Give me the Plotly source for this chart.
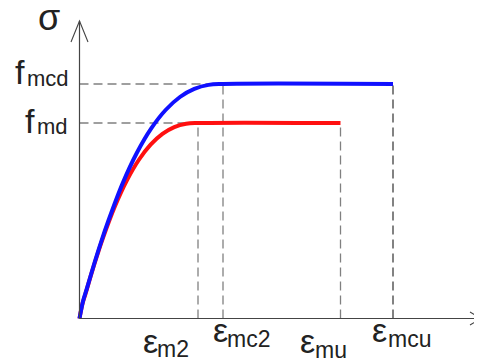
import plotly.graph_objects as go

# ---- data (strain in arbitrary units, stress in arbitrary units) ----
blue_eps = [0, 0.036, 0.072, 0.1435, 0.215, 0.287, 0.4305, 0.574, 0.7175, 0.861,
            1.0045, 1.148, 1.2915, 1.435, 3.135]
blue_sig = [0, 0.176, 0.293, 0.535, 0.762, 0.972, 1.349, 1.657, 1.901, 2.085,
            2.215, 2.296, 2.336, 2.345, 2.345]
red_eps = [0, 0.0296, 0.0593, 0.1185, 0.1778, 0.237, 0.3555, 0.474, 0.5925, 0.711,
           0.8295, 0.948, 1.0665, 1.185, 2.61]
red_sig = [0, 0.147, 0.244, 0.446, 0.635, 0.811, 1.124, 1.381, 1.585, 1.738,
           1.846, 1.914, 1.947, 1.955, 1.955]

eps_m2 = 1.185
eps_mc2 = 1.435
eps_mu = 2.61
eps_mcu = 3.135
f_md = 1.955
f_mcd = 2.345

W, H = 482, 360
OFF = 8  # page body margin
X_RANGE = [-0.715, 4.105]
Y_RANGE = [-0.495, 3.105]

fig = go.Figure()
fig.add_trace(go.Scatter(x=red_eps, y=red_sig, mode="lines",
                         line=dict(color="#ff1010", width=4, shape="spline", smoothing=1.0),
                         hoverinfo="skip"))
fig.add_trace(go.Scatter(x=blue_eps, y=blue_sig, mode="lines",
                         line=dict(color="#1010ff", width=4, shape="spline", smoothing=1.0),
                         hoverinfo="skip"))

shapes = []
axis_col = "#444444"
# axes
shapes.append(dict(type="line", x0=0, y0=0, x1=0, y1=2.975, line=dict(color=axis_col, width=1.2)))
shapes.append(dict(type="line", x0=0, y0=0, x1=4.02, y1=0, line=dict(color=axis_col, width=1.2)))
# arrow heads
shapes.append(dict(type="path", path="M -0.085 2.765 L 0 2.975 L 0.085 2.765",
                   line=dict(color=axis_col, width=1.1)))
shapes.append(dict(type="path", path="M 3.905 0.065 L 4.02 0 L 3.905 -0.065",
                   line=dict(color=axis_col, width=1.1)))

dash = "9px,5px"
gray = "#808080"
for (x0, y0, x1, y1, c) in [
    (0, f_mcd, eps_mc2, f_mcd, gray),
    (0, f_md, eps_m2, f_md, gray),
    (eps_m2, 0, eps_m2, f_md, gray),
    (eps_mc2, 0, eps_mc2, f_mcd, gray),
    (eps_mu, 0, eps_mu, f_md, gray),
    (eps_mcu, 0, eps_mcu, f_mcd, "#404040"),
]:
    shapes.append(dict(type="line", x0=x0, y0=y0, x1=x1, y1=y1, layer="below",
                       line=dict(color=c, width=1.3, dash=dash)))

txt_col = "#222222"
FONT = "Liberation Sans, Arial, sans-serif"


def center_y(baseline_px, size):
    return 1 - (baseline_px - OFF - 0.3465 * size) / H


annotations = []


def label(text, left_px, baseline_px, size):
    annotations.append(dict(text=text, xref="paper", yref="paper",
                            x=(left_px - OFF - 2) / W, y=center_y(baseline_px, size),
                            xanchor="left", yanchor="middle", showarrow=False,
                            font=dict(family=FONT, size=size, color=txt_col)))


label("σ", 38, 30, 36)
label("f", 15, 84, 34)
label("mcd", 27, 86, 22)
label("f", 25, 133, 34)
label("md", 37, 134, 22)
label("ε", 143, 353, 34)
label("m2", 157, 357, 23)
label("ε", 213, 342, 34)
label("mc2", 227, 347, 23)
label("ε", 300, 353, 34)
label("mu", 315, 358, 23)
label("ε", 372, 342, 34)
label("mcu", 388, 347, 23)

fig.update_layout(
    width=W, height=H,
    margin=dict(l=0, r=0, t=0, b=0),
    paper_bgcolor="white", plot_bgcolor="white",
    showlegend=False,
    xaxis=dict(range=X_RANGE, visible=False, fixedrange=True),
    yaxis=dict(range=Y_RANGE, visible=False, fixedrange=True),
    shapes=shapes,
    annotations=annotations,
)

fig.write_html("out.html")
